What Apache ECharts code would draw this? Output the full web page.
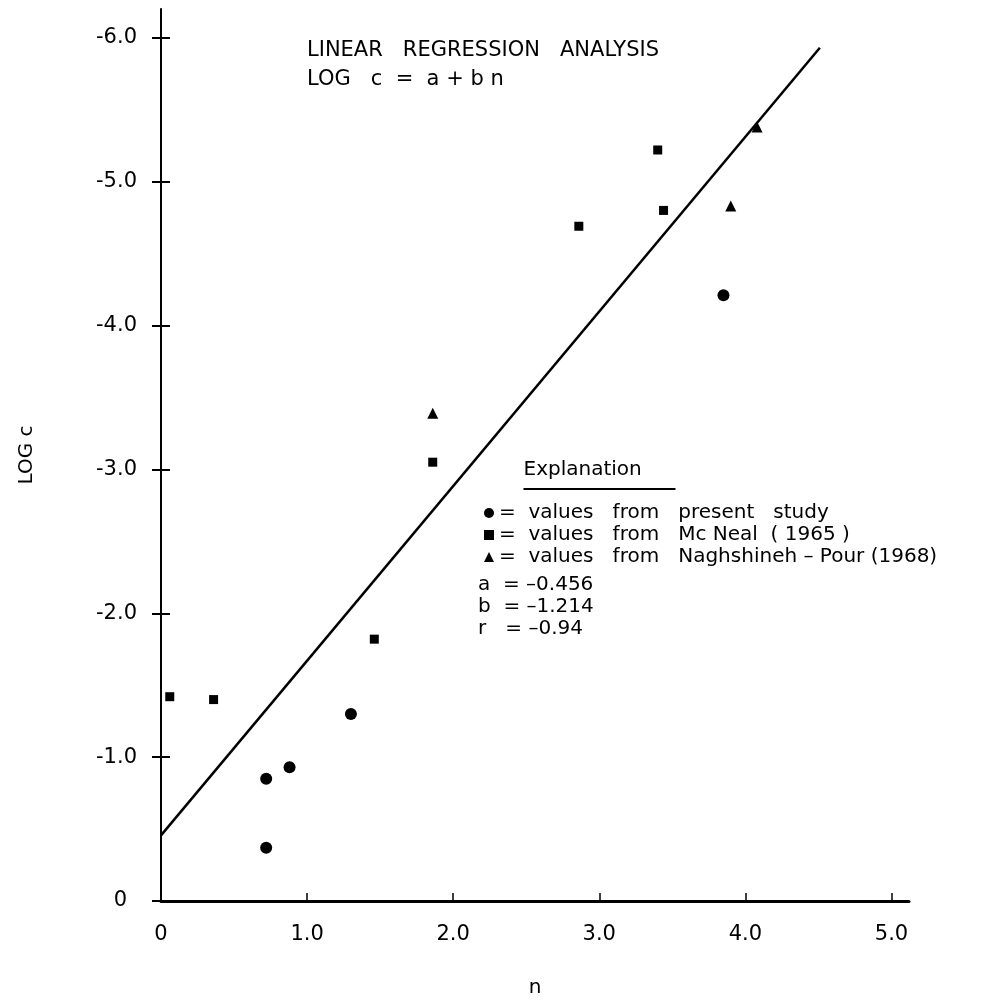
<!DOCTYPE html>
<html>
<head>
<meta charset="utf-8">
<title>Linear regression analysis: LOG c = a + b n</title>
<script src="https://cdn.jsdelivr.net/npm/echarts@6/dist/echarts.min.js"></script>
<style>
  html, body { margin: 0; padding: 0; background: #fff; }
  #chart { width: 998px; height: 1001px; }
</style>
</head>
<body>
<div id="chart"></div>
<script>
// Values from the present study
const presentN    = [0.72, 0.72, 0.88, 1.30, 3.85];
const presentLogC = [-0.37, -0.85, -0.93, -1.30, -4.21];

// Values from McNeal (1965)
const mcnealN    = [0.06, 0.36, 1.46, 1.86, 2.86, 3.40, 3.44];
const mcnealLogC = [-1.42, -1.40, -1.82, -3.05, -4.69, -5.22, -4.80];

// Values from Naghshineh-Pour (1968)
const pourN    = [1.86, 3.90, 4.08];
const pourLogC = [-3.39, -4.83, -5.38];

// Regression coefficients
const coefA = -0.456;
const coefB = -1.214;
const coefR = -0.94;
const fitN = [0, 4.51];

// Axis ticks
const xTicks = [0, 1, 2, 3, 4, 5];
const yTicks = [0, -1, -2, -3, -4, -5, -6];

const seriesNames = [
  'values   from   present   study',
  'values   from   Mc Neal  ( 1965 )',
  'values   from   Naghshineh \u2013 Pour (1968)'
];

const FONT = 'DejaVu Sans';
const INK = '#000';

const pairs = (xs, ys) => xs.map((x, i) => [x, ys[i]]);
const fitLine = fitN.map(n => [n, coefA + coefB * n]);

const fmtCoef = v => '\u2013' + Math.abs(v).toString();

const chart = echarts.init(document.getElementById('chart'), null, { renderer: 'canvas' });

const yAxisBase = {
  type: 'value',
  min: -6.2,
  max: 0,
  inverse: true,
  position: 'left',
  splitLine: { show: false }
};

const markStyle = { color: INK, opacity: 1 };

chart.setOption({
  backgroundColor: '#fff',
  animation: false,
  title: {
    text: 'LINEAR   REGRESSION   ANALYSIS\nLOG   c  =  a + b n',
    left: 302,
    top: 31,
    textStyle: {
      fontFamily: FONT,
      fontWeight: 'normal',
      fontSize: 21,
      lineHeight: 29,
      color: INK
    }
  },
  grid: { left: 161, right: 89, top: 9, bottom: 100, outerBoundsMode: 'none' },
  xAxis: {
    type: 'value',
    min: 0,
    max: 5.12,
    name: 'n',
    nameLocation: 'middle',
    nameGap: 77,
    nameTextStyle: { fontFamily: FONT, fontSize: 20, color: INK },
    axisLine: { show: true, lineStyle: { color: INK, width: 3 } },
    axisTick: {
      show: true,
      inside: true,
      length: 8,
      customValues: xTicks,
      lineStyle: { color: INK, width: 1.5 }
    },
    axisLabel: {
      customValues: xTicks,
      margin: 23,
      fontFamily: FONT,
      fontSize: 21,
      color: INK,
      formatter: v => (v === 0 ? '0' : v.toFixed(1))
    },
    splitLine: { show: false }
  },
  yAxis: [
    Object.assign({}, yAxisBase, {
      name: 'LOG c',
      nameLocation: 'middle',
      nameGap: 124,
      nameRotate: 90,
      nameTextStyle: { fontFamily: FONT, fontSize: 20, color: INK },
      axisLine: { show: true, lineStyle: { color: INK, width: 2 } },
      axisTick: {
        show: true,
        inside: false,
        length: 9,
        customValues: yTicks,
        lineStyle: { color: INK, width: 2 }
      },
      axisLabel: {
        customValues: yTicks,
        margin: 24,
        fontFamily: FONT,
        fontSize: 21,
        color: INK,
        formatter: v => (v === 0 ? '{z|0}' : v.toFixed(1)),
        rich: { z: { fontFamily: FONT, fontSize: 21, color: INK, padding: [0, 10, 0, 0] } }
      }
    }),
    // Inner half of the crossing tick marks
    Object.assign({}, yAxisBase, {
      axisLine: { show: false },
      axisTick: {
        show: true,
        inside: true,
        length: 9,
        customValues: yTicks,
        lineStyle: { color: INK, width: 2 }
      },
      axisLabel: { show: false }
    })
  ],
  legend: {
    data: seriesNames,
    orient: 'vertical',
    left: 479,
    top: 497,
    itemWidth: 10,
    itemHeight: 10,
    itemGap: 0,
    formatter: name => '=  ' + name,
    textStyle: { fontFamily: FONT, fontSize: 20, lineHeight: 22, color: INK },
    selectedMode: false
  },
  graphic: [
    {
      type: 'group',
      left: 521,
      top: 460,
      children: [
        {
          type: 'text',
          style: { text: 'Explanation', fontFamily: FONT, fontSize: 20, fill: INK },
          left: 0, top: 0
        },
        {
          type: 'line',
          shape: { x1: 0, y1: 29, x2: 152, y2: 29 },
          style: { stroke: INK, lineWidth: 2 }
        }
      ]
    },
    {
      type: 'text',
      left: 478,
      top: 574,
      style: {
        text: 'a  = ' + fmtCoef(coefA) + '\nb  = ' + fmtCoef(coefB) + '\nr   = ' + fmtCoef(coefR),
        fontFamily: FONT,
        fontSize: 20,
        lineHeight: 22,
        fill: INK
      }
    }
  ],
  series: [
    {
      name: seriesNames[0],
      type: 'scatter',
      symbol: 'circle',
      symbolSize: 12,
      itemStyle: markStyle,
      data: pairs(presentN, presentLogC)
    },
    {
      name: seriesNames[1],
      type: 'scatter',
      symbol: 'rect',
      symbolSize: 9,
      itemStyle: markStyle,
      data: pairs(mcnealN, mcnealLogC)
    },
    {
      name: seriesNames[2],
      type: 'scatter',
      symbol: 'triangle',
      symbolSize: 11,
      itemStyle: markStyle,
      data: pairs(pourN, pourLogC)
    },
    {
      name: 'fit',
      type: 'line',
      symbol: 'none',
      lineStyle: { color: INK, width: 2.5 },
      data: fitLine,
      z: 1
    }
  ]
});
</script>
</body>
</html>
